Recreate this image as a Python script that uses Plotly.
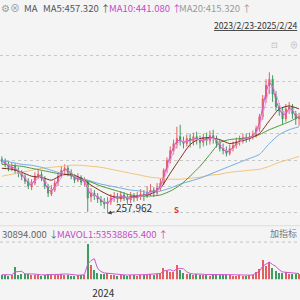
import plotly.graph_objects as go
import pandas as pd

# weekly candles (one per week)
dates = pd.date_range("2023-05-31", periods=91, freq="7D")

opens = [361.2, 357.4, 351.8, 342.3, 348.0, 340.4, 334.7, 329.0, 319.6, 308.2,
         315.8, 329.0, 332.8, 325.2, 310.1, 294.9, 302.5, 315.8, 329.0, 340.4,
         344.2, 336.6, 329.0, 321.4, 327.1, 317.7, 317.7, 289.2, 296.8, 291.1,
         285.5, 279.8, 276.0, 279.8, 287.4, 291.1, 285.5, 293.0, 289.2, 283.6,
         291.1, 287.4, 289.2, 294.9, 291.1, 298.7, 302.5, 296.8, 306.3, 315.8,
         340.4, 359.3, 378.3, 389.6, 404.8, 395.3, 391.5, 401.0, 395.3, 404.8,
         399.1, 393.4, 402.9, 397.2, 406.7, 401.0, 391.5, 382.1, 378.3, 372.6,
         382.1, 387.7, 395.3, 399.1, 402.9, 401.0, 404.8, 408.6, 419.9, 442.7,
         476.8, 503.3, 514.6, 486.2, 461.6, 454.0, 438.9, 457.8, 461.6, 448.3,
         438.9]
closes = [357.4, 351.8, 344.2, 348.0, 340.4, 334.7, 329.0, 319.6, 310.1, 315.8,
          329.0, 332.8, 325.2, 310.1, 296.8, 302.5, 315.8, 329.0, 340.4, 344.2,
          336.6, 329.0, 321.4, 327.1, 317.7, 319.6, 287.4, 296.8, 291.1, 285.5,
          279.8, 276.0, 279.8, 287.4, 291.1, 285.5, 293.0, 289.2, 283.6, 291.1,
          287.4, 289.2, 294.9, 291.1, 298.7, 302.5, 296.8, 306.3, 315.8, 340.4,
          359.3, 378.3, 391.5, 401.0, 395.3, 391.5, 401.0, 395.3, 404.8, 399.1,
          393.4, 402.9, 397.2, 406.7, 401.0, 391.5, 382.1, 378.3, 372.6, 382.1,
          387.7, 395.3, 399.1, 402.9, 401.0, 404.8, 408.6, 419.9, 442.7, 476.8,
          503.3, 514.6, 486.2, 461.6, 454.0, 438.9, 457.8, 461.6, 448.3, 438.9,
          442.7]
highs = [366.9, 363.1, 357.4, 355.6, 353.7, 346.1, 340.4, 332.8, 325.2, 323.3,
         336.6, 340.4, 338.5, 329.0, 313.9, 312.0, 321.4, 334.7, 348.0, 351.8,
         349.9, 342.3, 332.8, 334.7, 330.9, 327.1, 321.4, 306.3, 302.5, 296.8,
         291.1, 287.4, 289.2, 294.9, 298.7, 296.8, 300.6, 298.7, 294.9, 298.7,
         296.8, 298.7, 304.4, 302.5, 310.1, 313.9, 308.2, 315.8, 325.2, 344.2,
         365.0, 385.9, 399.1, 423.7, 427.5, 404.8, 408.6, 410.5, 412.4, 414.3,
         406.7, 410.5, 412.4, 416.1, 418.0, 406.7, 399.1, 391.5, 385.9, 389.6,
         395.3, 402.9, 406.7, 410.5, 410.5, 412.4, 416.1, 425.6, 448.3, 484.3,
         514.6, 527.9, 522.2, 491.9, 469.2, 461.6, 467.3, 471.1, 467.3, 454.0,
         450.2]
lows = [351.8, 346.1, 338.5, 338.5, 332.8, 327.1, 321.4, 313.9, 304.4, 302.5,
        312.0, 323.3, 319.6, 304.4, 289.2, 291.1, 298.7, 310.1, 325.2, 332.8,
        329.0, 323.3, 315.8, 317.7, 312.0, 310.1, 260.8, 279.8, 283.6, 277.9,
        272.2, 266.5, 257.962, 274.1, 279.8, 277.9, 279.8, 281.7, 276.0, 277.9,
        279.8, 281.7, 283.6, 281.7, 287.4, 291.1, 289.2, 291.1, 300.6, 312.0,
        334.7, 353.7, 370.7, 382.1, 387.7, 382.1, 385.9, 384.0, 387.7, 389.6,
        382.1, 385.9, 387.7, 389.6, 391.5, 384.0, 376.4, 370.7, 366.9, 368.8,
        376.4, 382.1, 387.7, 391.5, 393.4, 395.3, 399.1, 402.9, 414.3, 437.0,
        469.2, 486.2, 471.1, 454.0, 444.6, 429.4, 433.2, 448.3, 438.9, 427.5,
        425.6]
# volume in millions
volumes = [45, 42, 40, 48, 130, 50, 55, 52, 58, 46,
           48, 42, 40, 46, 52, 44, 48, 50, 56, 50,
           46, 40, 38, 42, 44, 48, 360, 150, 100, 70,
           60, 56, 62, 48, 44, 40, 46, 42, 38, 44,
           48, 40, 45, 50, 46, 52, 44, 56, 70, 118,
           85, 80, 75, 150, 95, 65, 56, 52, 48, 58,
           46, 44, 50, 40, 43, 46, 48, 44, 42, 45,
           40, 38, 42, 40, 37, 44, 48, 80, 110, 197,
           140, 177, 120, 85, 70, 62, 75, 58, 52, 60,
           56]

# long moving averages, sampled every 3rd week
ma_brown = [344.2, 342.3, 336.6, 329.0, 327.1, 321.4, 330.9, 332.8, 325.2, 312.0,
            300.6, 291.1, 287.4, 289.2, 291.1, 294.9, 306.3, 334.7, 363.1, 389.6,
            401.0, 402.9, 399.1, 391.5, 395.3, 401.0, 410.5, 435.1, 457.8, 463.5,
            457.8]
ma_green = [351.8, 349.9, 348.0, 344.2, 340.4, 336.6, 332.8, 330.9, 323.3, 317.7,
            310.1, 304.4, 298.7, 293.0, 291.1, 291.1, 293.0, 300.6, 312.0, 329.0,
            348.0, 370.7, 393.4, 399.1, 401.0, 402.9, 408.6, 418.0, 425.6, 433.2,
            442.7]
ma_blue = [359.3, 355.6, 351.8, 349.9, 346.1, 340.4, 334.7, 330.9, 325.2, 319.6,
           313.9, 310.1, 306.3, 302.5, 300.6, 296.8, 300.6, 306.3, 313.9, 319.6,
           325.2, 332.8, 340.4, 348.0, 355.6, 363.1, 370.7, 391.5, 408.6, 418.0,
           423.7]
ma_orange = [329.0, 332.8, 336.6, 340.4, 344.2, 346.1, 348.0, 349.9, 349.9, 348.0,
             346.1, 342.3, 338.5, 334.7, 330.9, 327.1, 325.2, 323.3, 323.3, 325.2,
             327.1, 330.9, 332.8, 336.6, 338.5, 340.4, 342.3, 348.0, 355.6, 361.2,
             366.9]

grid_prices = [260, 310, 360, 410, 460, 510, 560]

RED = "#e46060"
GREEN = "#3f9c60"
FONT = "Noto Sans CJK SC"

close_s = pd.Series(closes)
ma_short1 = close_s.rolling(2, min_periods=1).mean()
ma_short2 = close_s.rolling(3, min_periods=1).mean()
vol_s = pd.Series(volumes)
mavol = vol_s.rolling(3, min_periods=1).mean()
ma_dates = dates[::3]

bar_colors = [RED if c >= o else GREEN for o, c in zip(opens, closes)]

fig = go.Figure()

for vals, col in [(ma_orange, "#f1c27c"), (ma_blue, "#72abe0"),
                  (ma_green, "#4b9a35"), (ma_brown, "#7e2c1e")]:
    fig.add_trace(go.Scatter(x=ma_dates, y=vals, mode="lines",
                             line=dict(color=col, width=1, shape="spline", smoothing=0.6),
                             xaxis="x", yaxis="y", hoverinfo="skip"))

fig.add_trace(go.Candlestick(
    x=dates, open=opens, high=highs, low=lows, close=closes,
    increasing=dict(line=dict(color=RED, width=1), fillcolor=RED),
    decreasing=dict(line=dict(color=GREEN, width=1), fillcolor=GREEN),
    whiskerwidth=0, xaxis="x", yaxis="y"))

fig.add_trace(go.Scatter(x=dates, y=ma_short2, mode="lines",
                         line=dict(color="#e6a3d6", width=1), xaxis="x", yaxis="y"))
fig.add_trace(go.Scatter(x=dates, y=ma_short1, mode="lines",
                         line=dict(color="#cf55cf", width=1), xaxis="x", yaxis="y"))

fig.add_trace(go.Bar(x=dates, y=volumes, marker=dict(color=bar_colors, line=dict(width=0)),
                     width=3 * 86400000, xaxis="x2", yaxis="y2"))
fig.add_trace(go.Scatter(x=dates, y=mavol, mode="lines",
                         line=dict(color="#cf55cf", width=1), xaxis="x2", yaxis="y2"))

low_idx = lows.index(min(lows))
annotations = [
    dict(x=dates[low_idx], y=lows[low_idx], xref="x", yref="y",
         text=f"{lows[low_idx]:.3f}", showarrow=True, arrowhead=2, arrowsize=0.8,
         arrowwidth=1, arrowcolor="#444", ax=27, ay=-6,
         font=dict(size=10, color="#333", family=FONT)),
    dict(x=dates[53], y=1 - 219 / 300, xref="x", yref="paper", text="<b>S</b>",
         showarrow=False, font=dict(size=8, color="#e03030", family=FONT)),
]

def label(x, y, text, color, size=9.5):
    annotations.append(dict(x=x / 300, y=1 - y / 300, xref="paper", yref="paper",
                            xanchor="left", yanchor="middle", text=text, showarrow=False,
                            font=dict(size=size, color=color, family=FONT)))

label(-1, 8, "⚙", "#999", 10)
label(8, 8, "⊗", "#999", 10)
label(22, 8, "MA", "#555")
label(41, 8, "MA5:457.320 ↑", "#555")
label(107, 8, "MA10:441.080 ↑", "#c64ac6")
label(177, 8, "MA20:415.320 ↑", "#999")
label(212, 25, "<u>2023/2/23-2025/2/24</u>", "#333", 8.6)
label(269, 45, "⊡", "#bbb", 8)
label(288, 45, "⊕", "#bbb", 8)
label(0, 236, "30894.000 ↓", "#666")
label(55, 236, "MAVOL1:53538865.400 ↑", "#c64ac6")
label(268, 236, "加指标", "#777", 9)

shapes = [
    dict(type="line", xref="paper", yref="paper", x0=0, x1=1,
         y0=1 - 228 / 300, y1=1 - 228 / 300, line=dict(color="#dedede", width=1)),
    dict(type="line", xref="paper", yref="paper", x0=0, x1=1,
         y0=1 - 244.5 / 300, y1=1 - 244.5 / 300, line=dict(color="#c4c4c4", width=1, dash="dot")),
]

fig.update_layout(
    width=300, height=300, margin=dict(l=0, r=0, t=0, b=0),
    paper_bgcolor="#f4f4f4", plot_bgcolor="#f4f4f4",
    showlegend=False, bargap=0, boxgap=0.55,
    annotations=annotations, shapes=shapes,
    xaxis=dict(domain=[0, 1], anchor="y", range=["2023-05-27", "2025-02-21"],
               showticklabels=False, showgrid=False, zeroline=False,
               rangeslider=dict(visible=False)),
    xaxis2=dict(domain=[0, 1], anchor="y2", matches="x", range=["2023-05-27", "2025-02-21"],
                tickmode="array", tickvals=["2024-01-01"], ticktext=["2024"],
                showgrid=False, zeroline=False, ticks="", ticklabelstandoff=7,
                tickfont=dict(size=10, color="#333", family=FONT)),
    yaxis=dict(domain=[1 - 228 / 300, 1 - 40 / 300], range=[234.3, 590.4],
               tickmode="array", tickvals=grid_prices, showticklabels=False,
               showgrid=True, gridcolor="#c8c8c8", griddash="dot", gridwidth=1,
               zeroline=False),
    yaxis2=dict(domain=[1 - 282 / 300, 1 - 245 / 300], range=[0, 365],
                showticklabels=False, showgrid=False, zeroline=False),
)

fig.write_html("out.html")
